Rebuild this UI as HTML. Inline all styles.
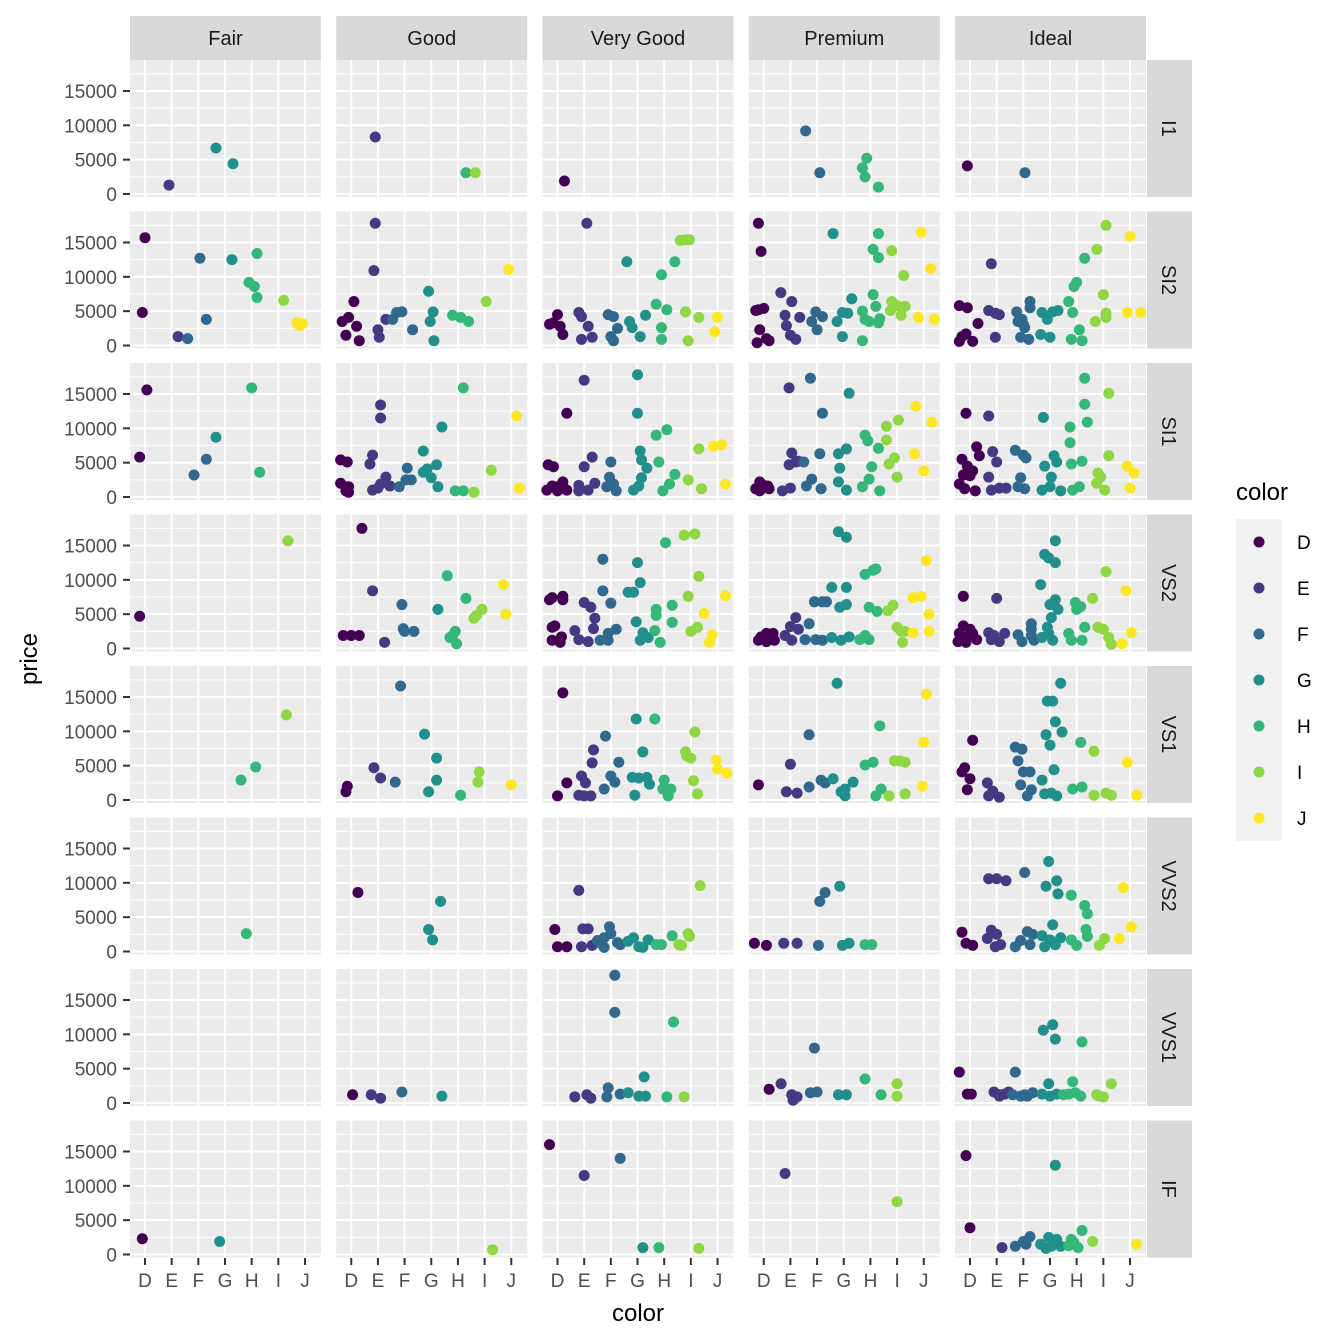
<!DOCTYPE html>
<html><head><meta charset="utf-8"><title>price by color facets</title>
<style>
html,body{margin:0;padding:0;background:#fff;}
svg{display:block;font-family:"Liberation Sans",Arial,sans-serif;}
</style></head>
<body>
<svg id="chart" width="1344" height="1344" viewBox="0 0 1344 1344" xmlns="http://www.w3.org/2000/svg"></svg>
<script>
const cuts = ["Fair","Good","Very Good","Premium","Ideal"];
const clarities = ["I1","SI2","SI1","VS2","VS1","VVS2","VVS1","IF"];
const colorLevels = ["D","E","F","G","H","I","J"];
const colorFills = ["#440154","#443A83","#31688E","#21908C","#35B779","#8FD744","#FDE725"];
const yTicks = [0,5000,10000,15000];
const yMinor = [2500,7500,12500,17500];
// each entry: [cutIndex, jittered color position, price]
const ptsI1 = [[0,0.9,1300],[0,2.66,6700],[0,3.3,4400],[1,0.9,8300],[1,4.3,3100],[1,4.65,3100],[2,0.26,1900],
[3,1.57,9200],[3,2.1,3100],[3,3.86,5200],[3,3.7,3800],[3,3.8,2500],[3,4.3,1000],[4,-0.1,4100],[4,2.06,3100]];
const ptsSI2 = [[0,0,15700],[0,-0.1,4800],[0,1.24,1300],[0,1.6,1000],[0,2.06,12700],[0,2.3,3800],[0,3.26,12500],[0,4.2,13400],[0,3.9,9200],[0,4.1,8600],[0,4.2,7000],[0,5.2,6550],[0,5.7,3350],[0,5.8,2900],[0,5.9,3200],
[1,-0.34,3500],[1,-0.2,1500],[1,-0.1,4100],[1,0.1,6400],[1,0.3,700],[1,0.2,2800],[1,0.9,17800],[1,0.85,10900],[1,1.0,2300],[1,1.05,1200],[1,1.3,3800],[1,1.55,3800],[1,1.7,4800],[1,1.9,4900],[1,2.3,2300],[1,2.9,7900],[1,3.07,4900],[1,2.96,3500],[1,3.1,700],[1,3.8,4400],[1,4.1,4100],[1,4.4,3500],[1,5.06,6400],[1,5.9,11100],
[2,-0.3,3100],[2,-0.15,3300],[2,0,4500],[2,0.2,1600],[2,0.1,2800],[2,1.1,17800],[2,0.8,4800],[2,0.9,4200],[2,1.15,2800],[2,0.9,900],[2,1.3,1200],[2,1.9,4500],[2,2.1,4200],[2,2.25,2500],[2,2.1,700],[2,2.0,1300],[2,2.6,12200],[2,2.7,3500],[2,3.1,1300],[2,2.8,2600],[2,3.7,6000],[2,3.3,4400],[2,3.9,10300],[2,4.1,5200],[2,3.9,2600],[2,4.4,12200],[2,3.9,900],[2,4.6,15300],[2,4.8,15400],[2,4.95,15400],[2,4.8,4900],[2,4.9,700],[2,5.3,4100],[2,6.0,4100],[2,5.9,2000],
[3,-0.2,17800],[3,-0.1,13700],[3,-0.2,5200],[3,0,5400],[3,-0.3,5100],[3,-0.15,2300],[3,0.1,1000],[3,-0.25,400],[3,0.2,700],[3,0.64,7700],[3,1.05,6400],[3,0.8,4400],[3,0.85,2900],[3,1.2,900],[3,1.0,1500],[3,1.35,4100],[3,1.95,4900],[3,2.2,4200],[3,1.8,3500],[3,2.0,2300],[3,2.6,16300],[3,2.75,3500],[3,2.95,1300],[3,3.3,6800],[3,3.15,4700],[3,2.95,4800],[3,4.3,16300],[3,4.1,14000],[3,4.3,12800],[3,3.7,5000],[3,3.95,3500],[3,4.1,7400],[3,3.8,3800],[3,4.2,5700],[3,3.7,700],[3,4.35,3900],[3,4.3,3300],[3,4.8,13800],[3,5.25,10200],[3,4.8,6400],[3,5.0,5800],[3,5.3,5700],[3,5.15,4400],[3,4.75,5100],[3,5.9,16500],[3,6.26,11200],[3,5.8,4100],[3,6.4,3800],
[4,-0.4,5800],[4,-0.1,5500],[4,-0.3,1300],[4,-0.4,600],[4,0.1,600],[4,-0.15,1700],[4,0.3,3200],[4,0.8,11900],[4,0.7,5100],[4,0.95,4700],[4,0.95,1200],[4,1.1,4500],[4,1.75,4900],[4,1.95,3800],[4,2.05,2600],[4,1.9,1200],[4,2.2,900],[4,2.0,3100],[4,1.8,3500],[4,2.25,6400],[4,2.25,5500],[4,2.7,4800],[4,2.9,3800],[4,3.0,1200],[4,2.65,1600],[4,3.1,4900],[4,3.3,5100],[4,3.7,6400],[4,3.9,8600],[4,4.0,9200],[4,4.3,12700],[4,4.1,2300],[4,3.85,4800],[4,4.2,700],[4,3.8,900],[4,5.1,17500],[4,4.76,14000],[4,5.0,7400],[4,5.1,4100],[4,4.7,3500],[4,5.1,4700],[4,6.0,15900],[4,5.9,4800],[4,6.4,4800]];
const ptsSI1 = [[0,0.07,15600],[0,-0.2,5800],[0,1.84,3200],[0,2.3,5500],[0,2.66,8700],[0,4.0,15900],[0,4.3,3600],
[1,-0.4,5400],[1,-0.15,5100],[1,-0.4,2000],[1,-0.1,1500],[1,-0.2,900],[1,-0.1,700],[1,1.1,13400],[1,1.1,11500],[1,0.8,6100],[1,1.3,2900],[1,1.1,1900],[1,0.8,1000],[1,1.0,1300],[1,1.45,1600],[1,0.7,4800],[1,1.8,1500],[1,2.1,4200],[1,2.25,2500],[1,2.05,2500],[1,2.7,6700],[1,2.7,3600],[1,2.85,4100],[1,3.2,4700],[1,3.4,10200],[1,3.0,2800],[1,3.25,1500],[1,4.2,15900],[1,3.9,900],[1,4.2,900],[1,4.6,700],[1,5.25,3900],[1,6.2,11800],[1,6.3,1300],
[2,-0.35,4700],[2,-0.15,4400],[2,0.35,12200],[2,-0.2,1600],[2,0,1500],[2,0.2,1500],[2,-0.4,1000],[2,0,900],[2,0.35,1000],[2,0.2,2200],[2,1.0,17000],[2,1.0,4400],[2,1.3,5800],[2,0.8,1700],[2,1.4,2000],[2,1.15,1000],[2,0.8,900],[2,2.0,5100],[2,2.1,1900],[2,1.85,1500],[2,1.95,2900],[2,2.2,900],[2,3.0,17800],[2,3.0,12200],[2,3.1,6700],[2,3.15,5400],[2,3.35,4200],[2,3.05,1600],[2,3.15,2800],[2,2.85,1000],[2,3.7,9000],[2,4.1,9800],[2,3.8,5100],[2,4.2,1900],[2,3.95,900],[2,4.4,3300],[2,4.9,2500],[2,5.4,1200],[2,5.3,7000],[2,5.85,7400],[2,6.15,7600],[2,6.3,1900],
[3,-0.15,2200],[3,0,1700],[3,0.15,1600],[3,-0.3,1200],[3,-0.15,900],[3,0.2,1200],[3,0.95,15900],[3,1.05,6400],[3,1.2,5100],[3,0.95,4700],[3,1.3,5200],[3,0.7,900],[3,1.0,1300],[3,1.75,17300],[3,1.5,5100],[3,2.1,6300],[3,1.8,2600],[3,2.15,1200],[3,1.6,1600],[3,2.2,12200],[3,3.2,15100],[3,2.8,6300],[3,3.1,7000],[3,2.85,4200],[3,3.1,1000],[3,2.8,2200],[3,3.8,9000],[3,3.9,8200],[3,4.3,7100],[3,4.05,4400],[3,4.35,900],[3,3.95,2600],[3,3.7,1500],[3,4.6,10300],[3,5.05,11200],[3,4.7,4800],[3,4.9,5700],[3,5.0,2900],[3,4.6,8300],[3,5.7,13200],[3,6.3,10900],[3,6.0,3800],[3,5.65,6300],
[4,-0.15,12200],[4,0.25,7300],[4,0.35,6000],[4,-0.3,5500],[4,-0.1,4500],[4,-0.4,1900],[4,-0.2,1200],[4,0.2,900],[4,0,3100],[4,0.1,3800],[4,-0.25,3200],[4,0.7,11800],[4,0.85,6600],[4,1.0,5100],[4,0.7,2900],[4,1.1,1300],[4,0.8,1000],[4,1.35,1300],[4,1.7,6800],[4,2.0,6100],[4,2.1,5700],[4,1.9,2800],[4,2.05,1200],[4,1.8,1500],[4,2.75,11600],[4,2.8,4500],[4,3.15,6000],[4,3.25,5100],[4,3.0,1500],[4,3.05,2900],[4,2.7,1000],[4,3.4,900],[4,4.3,17300],[4,4.3,13500],[4,3.75,10200],[4,3.75,7900],[4,4.4,10900],[4,3.8,4800],[4,4.2,5200],[4,4.1,1500],[4,3.85,1000],[4,5.2,15100],[4,5.2,6000],[4,4.9,2900],[4,4.75,2000],[4,5.05,1000],[4,4.8,3500],[4,5.9,4500],[4,6.15,3500],[4,6.0,1300]];
const ptsVS2 = [[0,-0.2,4700],[0,5.36,15700],
[1,-0.3,1900],[1,0,1900],[1,0.3,1900],[1,0.4,17500],[1,0.8,8400],[1,1.25,900],[1,1.9,6400],[1,1.95,2900],[1,2.0,2500],[1,2.35,2500],[1,3.25,5700],[1,3.6,10600],[1,3.7,1600],[1,3.95,700],[1,3.8,1900],[1,3.9,2500],[1,4.3,7300],[1,4.6,4400],[1,4.7,4800],[1,4.9,5700],[1,5.7,9300],[1,5.8,5000],
[2,-0.3,7100],[2,-0.2,7400],[2,0.2,7100],[2,0.2,7600],[2,-0.2,3100],[2,-0.1,3300],[2,-0.2,1200],[2,0.1,900],[2,0.15,1700],[2,0.65,2600],[2,1.0,6700],[2,1.25,6000],[2,1.35,2900],[2,1.4,4400],[2,0.8,1300],[2,1.15,1000],[2,1.6,1200],[2,1.7,13000],[2,1.7,8400],[2,1.9,2200],[2,2.0,6600],[2,2.2,2800],[2,1.9,1200],[2,2.65,8200],[2,2.85,8200],[2,3.0,12500],[2,3.1,9600],[2,2.95,3900],[2,3.2,2300],[2,3.1,1200],[2,3.4,1600],[2,3.7,4800],[2,3.65,2600],[2,3.7,5700],[2,4.05,15400],[2,4.3,6300],[2,4.3,3800],[2,3.85,900],[2,4.75,16500],[2,4.9,7600],[2,5.15,16700],[2,5.25,3100],[2,5.3,10500],[2,5.0,2500],[2,5.5,5100],[2,5.7,900],[2,5.8,2000],[2,6.3,7700],
[3,-0.1,1700],[3,0.1,2200],[3,0.35,2200],[3,0.1,1000],[3,-0.2,1200],[3,0.4,1200],[3,1.0,3200],[3,1.2,4500],[3,1.05,1200],[3,1.3,2800],[3,1.55,1300],[3,0.8,1900],[3,1.9,6800],[3,2.2,6800],[3,2.35,6800],[3,1.7,3600],[3,2.2,1200],[3,1.95,1300],[3,2.8,17000],[3,3.1,16200],[3,2.55,8900],[3,3.1,8900],[3,2.85,6000],[3,3.1,6400],[3,2.55,1600],[3,2.9,1200],[3,3.2,1700],[3,3.8,10800],[3,4.1,11400],[3,4.2,11600],[3,3.95,6000],[3,4.25,5400],[3,3.95,1300],[3,3.6,1300],[3,3.8,1900],[3,4.65,5500],[3,4.85,6300],[3,5.15,2500],[3,5.3,2500],[3,5.0,3100],[3,5.2,900],[3,5.6,7400],[3,5.9,7600],[3,6.1,12800],[3,6.2,5000],[3,6.2,2500],[3,5.6,2300],
[4,-0.25,7600],[4,-0.4,2200],[4,-0.15,1600],[4,-0.45,1000],[4,-0.15,900],[4,0.1,2200],[4,0.25,1300],[4,0,2800],[4,-0.25,3300],[4,1.0,7300],[4,0.7,2300],[4,0.9,1900],[4,1.1,1000],[4,1.3,2200],[4,0.8,1300],[4,2.3,3600],[4,2.3,2800],[4,2.3,1900],[4,1.95,1000],[4,2.4,1200],[4,1.8,2000],[4,2.8,13700],[4,2.95,13200],[4,3.2,15700],[4,3.2,12500],[4,2.65,9300],[4,3.0,6400],[4,3.2,7100],[4,3.05,4500],[4,2.9,3100],[4,2.7,1600],[4,3.1,1200],[4,2.95,2200],[4,3.3,5700],[4,3.95,6700],[4,4.0,5700],[4,4.15,6100],[4,4.3,3100],[4,4.2,1200],[4,3.8,1200],[4,3.7,2200],[4,4.6,7300],[4,5.1,11200],[4,4.8,3100],[4,5.2,1600],[4,5.3,600],[4,5.0,2800],[4,5.7,700],[4,5.85,8400],[4,6.05,2300]];
const ptsVS1 = [[0,3.6,2900],[0,4.15,4800],[0,5.3,12400],
[1,-0.15,2000],[1,-0.2,1200],[1,0.85,4700],[1,1.1,3200],[1,1.65,2600],[1,1.85,16600],[1,2.75,9600],[1,2.9,1200],[1,3.2,6100],[1,3.2,2900],[1,4.1,700],[1,4.75,2600],[1,4.8,4100],[1,6.0,2200],
[2,0,600],[2,0.2,15600],[2,0.35,2500],[2,0.9,3500],[2,1.0,600],[2,1.3,5400],[2,1.35,7300],[2,1.05,2500],[2,1.25,600],[2,0.8,700],[2,1.8,9300],[2,1.75,1600],[2,2.0,3500],[2,2.15,2600],[2,2.3,5500],[2,2.95,11800],[2,2.8,3300],[2,3.05,3200],[2,3.2,7000],[2,2.9,700],[2,3.35,3300],[2,3.45,2300],[2,3.65,11800],[2,3.95,1600],[2,4.0,2900],[2,4.15,600],[2,4.25,1600],[2,4.8,7000],[2,5.0,6100],[2,5.15,9900],[2,5.1,2800],[2,5.25,900],[2,4.85,6400],[2,5.95,5800],[2,6.0,4500],[2,6.35,3900],
[3,-0.2,2200],[3,1.0,5200],[3,0.85,1200],[3,1.25,1000],[3,1.7,1900],[3,1.7,9500],[3,2.15,2900],[3,2.3,2500],[3,2.6,3100],[3,2.75,17000],[3,2.9,1200],[3,3.05,600],[3,3.35,2600],[3,3.05,1600],[3,3.8,5100],[3,4.1,5500],[3,4.35,10800],[3,4.4,1600],[3,4.2,600],[3,4.7,600],[3,4.9,5700],[3,5.1,5700],[3,5.3,5500],[3,5.3,900],[3,5.95,2000],[3,6.0,8400],[3,6.1,15400],
[4,-0.3,4100],[4,-0.2,4700],[4,0,3100],[4,-0.1,1500],[4,0.1,8700],[4,0.65,2500],[4,0.85,1300],[4,1.1,400],[4,0.7,600],[4,1.7,7700],[4,1.8,5700],[4,2.0,4100],[4,2.25,4100],[4,2.3,1500],[4,2.15,600],[4,1.95,7400],[4,1.9,2200],[4,2.85,9500],[4,2.9,14400],[4,3.1,14400],[4,3.2,11400],[4,3.4,17000],[4,3.45,9900],[4,3.0,8000],[4,2.7,2900],[4,2.8,900],[4,3.05,1000],[4,3.25,600],[4,3.15,4400],[4,4.15,8400],[4,4.65,7100],[4,4.2,1900],[4,4.65,700],[4,3.85,1600],[4,5.1,1000],[4,5.3,700],[4,5.9,5500],[4,6.25,700]];
const ptsVVS2 = [[0,3.8,2600],
[1,0.25,8600],[1,3.35,7300],[1,2.9,3200],[1,3.05,1700],
[2,-0.1,3200],[2,0,700],[2,0.35,700],[2,0.8,8900],[2,0.95,3300],[2,1.15,3300],[2,0.9,700],[2,1.3,900],[2,1.5,1600],[2,1.6,1300],[2,1.75,2000],[2,1.95,3600],[2,2.0,2600],[2,2.25,1300],[2,1.75,600],[2,2.35,1000],[2,2.65,1500],[2,2.85,2000],[2,3.05,700],[2,3.2,600],[2,3.4,1700],[2,3.7,1000],[2,3.9,1000],[2,4.3,2300],[2,4.55,1000],[2,4.65,900],[2,4.9,2600],[2,5.35,9600],[2,4.95,2200],
[3,-0.35,1200],[3,0.1,900],[3,0.75,1200],[3,1.25,1200],[3,2.1,7300],[3,2.3,8600],[3,2.05,900],[3,2.85,9500],[3,3.2,1200],[3,2.95,900],[3,3.8,1000],[3,4.05,1000],
[4,-0.3,2800],[4,-0.15,1200],[4,0.1,900],[4,0.7,10600],[4,1.0,10600],[4,1.35,10300],[4,0.65,1900],[4,0.8,3100],[4,1.0,2500],[4,1.15,1000],[4,0.95,700],[4,2.05,11500],[4,2.15,2900],[4,2.35,2500],[4,2.25,1000],[4,1.9,1600],[4,1.7,700],[4,2.95,13100],[4,2.85,9500],[4,3.25,10300],[4,3.1,3900],[4,2.7,2300],[4,3.0,1700],[4,3.2,1000],[4,2.8,700],[4,3.4,2000],[4,3.3,8400],[4,3.8,8200],[4,4.3,6700],[4,4.4,5500],[4,4.35,3200],[4,4.4,2200],[4,4.0,900],[4,3.8,1700],[4,4.85,900],[4,5.05,1900],[4,5.75,9300],[4,5.6,1900],[4,6.05,3600]];
const ptsVVS1 = [[1,0.05,1200],[1,0.75,1200],[1,1.1,700],[1,1.9,1600],[1,3.4,1000],
[2,0.65,900],[2,1.1,1200],[2,1.25,700],[2,1.9,2200],[2,1.85,900],[2,2.35,1300],[2,2.15,18600],[2,2.15,13200],[2,2.65,1500],[2,3.25,3800],[2,3.3,1000],[2,3.05,1000],[2,4.35,11800],[2,4.1,900],[2,4.75,900],
[3,0.2,2000],[3,0.65,2800],[3,1.05,1200],[3,1.25,900],[3,1.1,400],[3,1.9,8000],[3,1.75,1500],[3,2.0,1600],[3,2.8,1200],[3,3.1,1200],[3,3.8,3500],[3,4.4,1200],[3,5.0,2800],[3,5.0,1000],
[4,-0.4,4500],[4,-0.1,1300],[4,0.05,1300],[4,0.9,1600],[4,1.1,1200],[4,1.3,1300],[4,1.45,1600],[4,1.1,1000],[4,1.6,1200],[4,1.7,4500],[4,1.9,1000],[4,2.15,1000],[4,2.35,1500],[4,2.05,1200],[4,2.75,10600],[4,3.1,11400],[4,3.2,9300],[4,2.95,2800],[4,2.7,1300],[4,3.0,1000],[4,3.25,1300],[4,3.5,1200],[4,3.85,3100],[4,4.2,8900],[4,3.95,1500],[4,4.15,1000],[4,3.7,1300],[4,4.75,1200],[4,5.0,900],[4,5.3,2800],[4,4.85,1000]];
const ptsIF = [[0,-0.1,2300],[0,2.8,1900],[1,5.3,700],
[2,-0.3,16000],[2,1.0,11500],[2,2.35,14000],[2,3.2,1000],[2,3.8,1000],[2,5.3,900],
[3,0.8,11800],[3,5.0,7700],
[4,-0.15,14400],[4,0,3900],[4,1.2,1000],[4,1.7,1200],[4,2.1,1500],[4,2.25,2600],[4,2.0,1900],[4,3.2,13000],[4,2.85,900],[4,2.95,2500],[4,3.25,2200],[4,2.65,1500],[4,3.05,1200],[4,3.4,1200],[4,3.9,1700],[4,4.2,3500],[4,4.05,1000],[4,3.7,1300],[4,3.8,2200],[4,4.6,1900],[4,6.25,1500]];
const pointsByClarity = [ptsI1, ptsSI2, ptsSI1, ptsVS2, ptsVS1, ptsVVS2, ptsVVS1, ptsIF];

const NS = "http://www.w3.org/2000/svg";
const svg = document.getElementById("chart");
const PW = 191, PH = 137;
function panelLeft(c){ return 130 + c*206.25; }
function panelTop(r){ return 60 + r*151.5; }
function xScale(c, v){ return panelLeft(c) + 15 + v*26.67; }
function yScale(r, p){ return panelTop(r) + 134 - p*0.006867; }
function mk(tag, attrs, parent){
  const e = document.createElementNS(NS, tag);
  for (const k in attrs) e.setAttribute(k, attrs[k]);
  (parent||svg).appendChild(e);
  return e;
}
function txt(str, attrs, parent){ const e = mk("text", attrs, parent); e.textContent = str; return e; }

for (let r = 0; r < clarities.length; r++) {
  for (let c = 0; c < cuts.length; c++) {
    const g = mk("g", {});
    
    
    const L = panelLeft(c), T = panelTop(r);
    mk("rect", {x:L, y:T, width:PW, height:PH, fill:"#EBEBEB"}, g);
    yMinor.forEach(v => { const y = yScale(r, v); if (y > T) mk("line", {x1:L, x2:L+PW, y1:y, y2:y, stroke:"#fff", "stroke-width":1}, g); });
    yTicks.forEach(v => { const y = yScale(r, v); mk("line", {x1:L, x2:L+PW, y1:y, y2:y, stroke:"#fff", "stroke-width":2}, g); });
    colorLevels.forEach((_, i) => { const x = xScale(c, i); mk("line", {x1:x, x2:x, y1:T, y2:T+PH, stroke:"#fff", "stroke-width":2}, g); });
    pointsByClarity[r].filter(p => p[0] === c).forEach(p => {
      const ci = Math.max(0, Math.min(6, Math.round(p[1])));
      const pt = mk("circle", {cx:xScale(c, p[1]), cy:yScale(r, p[2]), r:5.5, fill:colorFills[ci]}, g);
      
      
    });
  }
  // y axis
  const ax = mk("g", {});
  
  
  yTicks.forEach(v => {
    const y = yScale(r, v);
    mk("line", {x1:123, x2:130, y1:y, y2:y, stroke:"#333", "stroke-width":2}, ax);
    txt(String(v), {x:117, y:y+7, "text-anchor":"end", "font-size":19, fill:"#4D4D4D"}, ax);
  });
  // right strip
  const T = panelTop(r);
  const st = mk("g", {});
  
  
  mk("rect", {x:1147, y:T, width:45, height:PH, fill:"#D9D9D9"}, st);
  txt(clarities[r], {x:0, y:0, transform:"translate(1162," + (T+PH/2) + ") rotate(90)", "text-anchor":"middle", "font-size":20, fill:"#1A1A1A"}, st);
}
for (let c = 0; c < cuts.length; c++) {
  const L = panelLeft(c);
  const st = mk("g", {});
  
  
  mk("rect", {x:L, y:16, width:PW, height:44, fill:"#D9D9D9"}, st);
  txt(cuts[c], {x:L+PW/2, y:45, "text-anchor":"middle", "font-size":20, fill:"#1A1A1A"}, st);
  const ax = mk("g", {});
  
  
  colorLevels.forEach((lv, i) => {
    const x = xScale(c, i);
    mk("line", {x1:x, x2:x, y1:1258, y2:1265, stroke:"#333", "stroke-width":2}, ax);
    txt(lv, {x:x, y:1287, "text-anchor":"middle", "font-size":19, fill:"#4D4D4D"}, ax);
  });
}
const xt = txt("color", {x:638, y:1321, "text-anchor":"middle", "font-size":24, fill:"#000"});


const yt = txt("price", {x:0, y:0, transform:"translate(37,659) rotate(-90)", "text-anchor":"middle", "font-size":24, fill:"#000"});


// legend
const lg = mk("g", {});


txt("color", {x:1236, y:500, "font-size":24, fill:"#000"}, lg);
mk("rect", {x:1236, y:519, width:46, height:322, fill:"#F2F2F2"}, lg);
colorLevels.forEach((lv, i) => {
  const e = mk("g", {}, lg);
  
  
  mk("circle", {cx:1259, cy:542 + i*46, r:5.5, fill:colorFills[i]}, e);
  txt(lv, {x:1297, y:549 + i*46, "font-size":19, fill:"#000"}, e);
});
</script>
</body></html>
